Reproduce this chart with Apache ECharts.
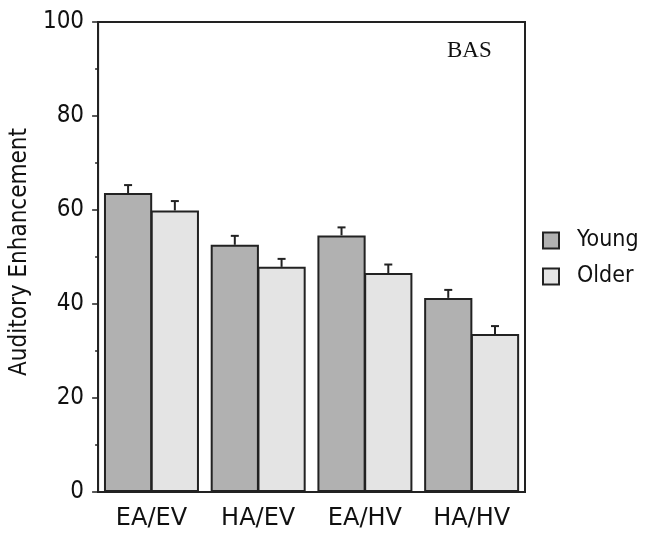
<!DOCTYPE html>
<html><head><meta charset="utf-8">
<script src="https://cdn.jsdelivr.net/npm/echarts@6/dist/echarts.min.js"></script>
<style>html,body{margin:0;padding:0;background:#fff}#c{width:648px;height:538px}</style>
</head><body><div id="c"></div>
<script>
const categories = ['EA/EV', 'HA/EV', 'EA/HV', 'HA/HV'];
const youngValues = [63.6, 52.6, 54.6, 41.3];
const olderValues = [59.9, 47.9, 46.6, 33.6];
const youngErrors = [1.7, 1.9, 1.7, 1.7];
const olderErrors = [2.0, 1.7, 1.8, 1.7];
const yTicks = [0, 20, 40, 60, 80, 100];

const fontC = 'DejaVu Sans Condensed';
const font = 'DejaVu Sans';
const gapPct = 11;
const barGapPct = -3;

function errRender(vals, errs, side) {
  return function (params, api) {
    const i = api.value(0);
    const v = vals[i], e = errs[i];
    const band = api.size([1, 0])[0];
    const g = barGapPct / 100;
    const bw = band * (1 - gapPct / 100) / (2 + g);
    const off = side * bw * (1 + g) / 2;
    const p0 = api.coord([i, v]);
    const p1 = api.coord([i, v + e]);
    const x = p0[0] + off;
    const cap = 4;
    const st = { stroke: '#222', lineWidth: 2 };
    return { type: 'group', children: [
      { type: 'line', shape: { x1: x, y1: p0[1], x2: x, y2: p1[1] }, style: st },
      { type: 'line', shape: { x1: x - cap, y1: p1[1], x2: x + cap, y2: p1[1] }, style: st }
    ]};
  };
}

const chart = echarts.init(document.getElementById('c'));
chart.setOption({
  animation: false,
  backgroundColor: '#fff',
  grid: { left: 95, right: 123, top: 22, bottom: 46, show: true, borderColor: '#222', borderWidth: 2, backgroundColor: 'transparent' },
  legend: {
    orient: 'vertical', left: 542, top: 229, padding: 0, itemGap: 13, itemWidth: 16, itemHeight: 16,
    icon: 'rect',
    textStyle: { fontFamily: fontC, fontSize: 23, color: '#111', padding: [0, 0, 0, 13] },
    data: ['Young', 'Older']
  },
  graphic: [{ type: 'text', left: 447, top: 39, style: { text: 'BAS', font: '23px "Liberation Serif"', fill: '#111' } }],
  xAxis: {
    type: 'category', data: categories,
    axisLine: { lineStyle: { color: '#222', width: 2 } },
    axisTick: { alignWithLabel: true, length: 6, lineStyle: { color: '#222', width: 1.5 } },
    axisLabel: { fontFamily: font, fontSize: 24, color: '#111', margin: 15 }
  },
  yAxis: {
    type: 'value', min: 0, max: 100, interval: 20,
    name: 'Auditory Enhancement', nameLocation: 'middle', nameGap: 62,
    nameTextStyle: { fontFamily: fontC, fontSize: 24, color: '#111', padding: [0, 0, 0, 10] },
    axisLine: { show: true, lineStyle: { color: '#222', width: 2 } },
    axisTick: { show: true, length: 6, lineStyle: { color: '#222', width: 1.5 } },
    minorTick: { show: true, splitNumber: 2, length: 3, lineStyle: { color: '#222', width: 1.5 } },
    splitLine: { show: false },
    axisLabel: { fontFamily: fontC, fontSize: 24, color: '#111', margin: 14 }
  },
  series: [
    { name: 'Young', type: 'bar', data: youngValues, barGap: barGapPct + '%', barCategoryGap: gapPct + '%',
      itemStyle: { color: '#b1b1b1', borderColor: '#222', borderWidth: 2 } },
    { name: 'Older', type: 'bar', data: olderValues,
      itemStyle: { color: '#e4e4e4', borderColor: '#222', borderWidth: 2 } },
    { type: 'custom', renderItem: errRender(youngValues, youngErrors, -1), data: categories.map((c, i) => [i]), z: 5 },
    { type: 'custom', renderItem: errRender(olderValues, olderErrors, 1), data: categories.map((c, i) => [i]), z: 5 }
  ]
});
</script></body></html>
